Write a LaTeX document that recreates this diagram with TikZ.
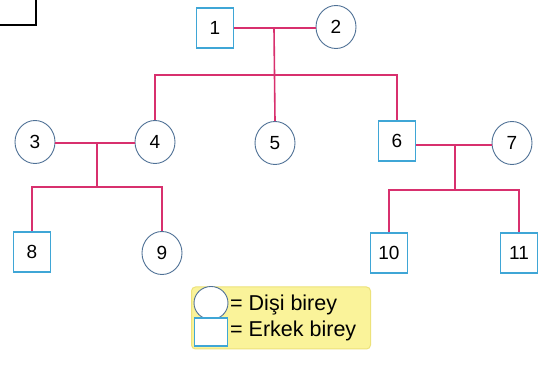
\documentclass[tikz,border=0pt]{standalone}
\usepackage{fontspec}
\setmainfont{Liberation Sans}
\usetikzlibrary{shapes.geometric}
\definecolor{sqblue}{HTML}{3FA6D6}
\definecolor{cblue}{HTML}{4F7196}
\definecolor{lnpink}{HTML}{D8306E}
\definecolor{legfill}{HTML}{FAF39A}
\definecolor{legline}{HTML}{EDE27A}
\tikzset{
  male/.style={draw=sqblue, line width=1.1pt, fill=white, minimum width=37pt, minimum height=40pt, inner sep=0pt, font=\fontsize{19}{21}\selectfont},
  female/.style={ellipse, draw=cblue, line width=0.9pt, fill=white, minimum width=40pt, minimum height=43pt, inner sep=0pt, font=\fontsize{19}{21}\selectfont},
  link/.style={draw=lnpink, line width=1.6pt},
  lmale/.style={draw=sqblue, line width=1.1pt, fill=white, minimum width=33pt, minimum height=28pt, inner sep=0pt},
  lfemale/.style={ellipse, draw=cblue, line width=0.9pt, fill=white, minimum width=34pt, minimum height=33pt, inner sep=0pt},
  legtext/.style={anchor=west, inner sep=0pt, font=\fontsize{21.5}{23}\selectfont}
}
\begin{document}
\begin{tikzpicture}[x=1pt,y=-1pt]
\useasboundingbox (0,0) rectangle (539,390);
\fill[white] (0,0) rectangle (539,390);
% cut-off box at top left
\draw[black, line width=1.2pt] (-2,25) -- (36,25) -- (36,-2);
% generation I
\node[male] (n1) at (215,28) {1};
\node[female] (n2) at (336,27) {2};
% generation II
\node[female] (n3) at (35,142) {3};
\node[female] (n4) at (155,142) {4};
\node[female] (n5) at (275,143) {5};
\node[male] (n6) at (397,141) {6};
\node[female] (n7) at (512,143) {7};
% generation III
\node[male] (n8) at (32,252) {8};
\node[female] (n9) at (162,253) {9};
\node[male] (n10) at (389,253) {10};
\node[male] (n11) at (519,253) {11};
% junction coordinates
\coordinate (m12) at (274,28);
\coordinate (s1) at (274,75);
\coordinate (m34) at (97,143);
\coordinate (s2) at (97,187);
\coordinate (m67) at (455,145);
\coordinate (s3) at (455,190);
% connectors
\draw[link] (n1.east |- m12) -- (n2.west |- m12);
\draw[link] (m12) -- (n5.north);
\draw[link] (n4.north) -- (n4.north |- s1) -- (n6.north |- s1) -- (n6.north);
\draw[link] (n3.east |- m34) -- (n4.west |- m34);
\draw[link] (m34) -- (s2);
\draw[link] (n8.north) -- (n8.north |- s2) -- (n9.north |- s2) -- (n9.north);
\draw[link] (n6.east |- m67) -- (n7.west |- m67);
\draw[link] (m67) -- (s3);
\draw[link] (n10.north) -- (n10.north |- s3) -- (n11.north |- s3) -- (n11.north);
% legend
\node[draw=legline, line width=1pt, fill=legfill, rounded corners=4pt, minimum width=179pt, minimum height=62pt, inner sep=0pt] (leg) at (281,318) {};
\node[lfemale] (lf) at (211,303) {};
\node[lmale] (lm) at (211,332) {};
\node[legtext] (lft) at (230,305) {= Dişi birey};
\node[legtext] (lmt) at (230,331) {= Erkek birey};
\end{tikzpicture}
\end{document}
